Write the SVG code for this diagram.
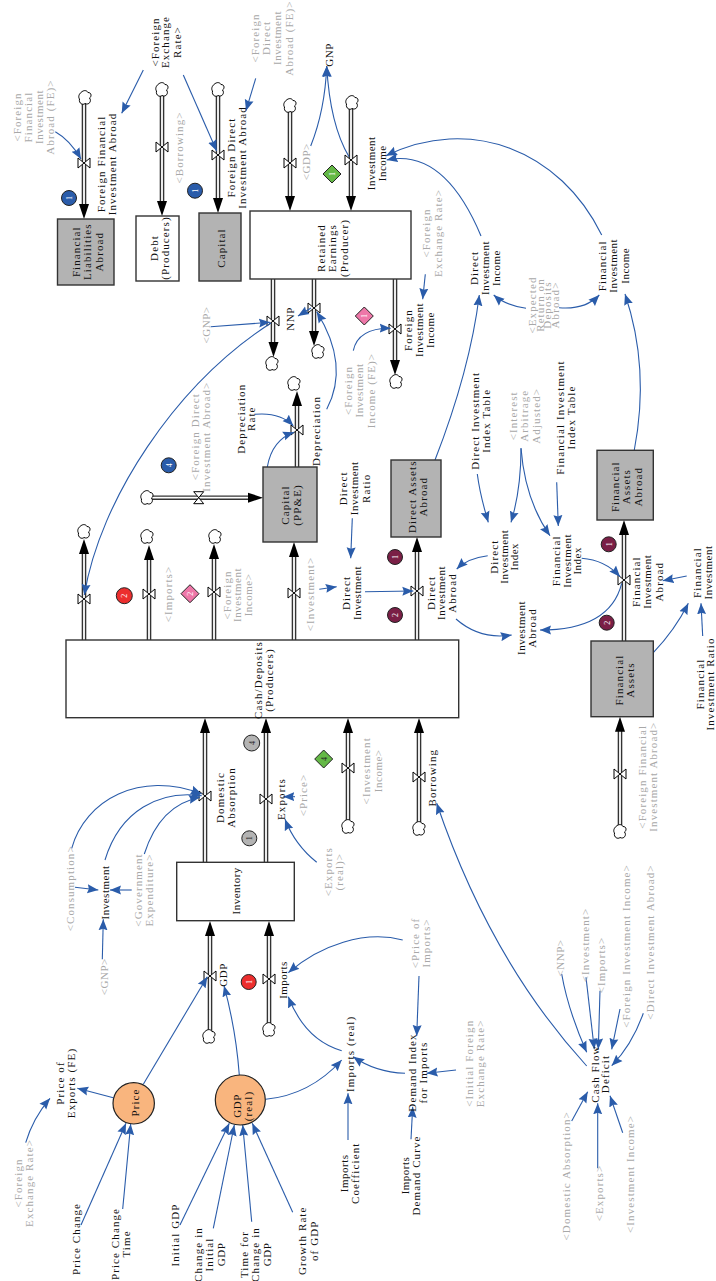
<svg xmlns="http://www.w3.org/2000/svg" width="716" height="1281" viewBox="0 0 716 1281">
<style>
text{font-family:"Liberation Serif","Times New Roman",serif;font-size:11px;letter-spacing:1.1px;text-anchor:middle}
.t{fill:#111}
.g{fill:#a8a8a8}
.i{letter-spacing:.5px}
.b{fill:#fff;font-size:8px;letter-spacing:0}
.s{stroke:#333;stroke-width:1.4}
.sg{fill:#b3b3b3}
.sw{fill:#fff}
.c{fill:none;stroke:#2a5caa;stroke-width:1.1;marker-end:url(#a)}
.po{fill:none;stroke:#333;stroke-width:4.6}
.pi{fill:none;stroke:#fff;stroke-width:1.8}
</style>
<defs>
<marker id="a" markerUnits="userSpaceOnUse" markerWidth="12" markerHeight="10" viewBox="0 0 12 10" refX="11" refY="5" orient="auto"><path d="M0,0.5L11,5L0,9.5L1.5,5Z" fill="#2a5caa"/></marker>
<path id="h" d="M0,0L-5,-15L5,-15Z" fill="#000"/>
<path id="v" d="M-6,-5L6,5L6,-5L-6,5Z" fill="#fff" stroke="#000" stroke-width="1"/>
<path id="k" d="M-4,-5.5C-1,-8.5 2,-7.5 3,-5.5C7,-5.5 6.5,-1 4.5,0C7,3 4,7.5 0,5.5C-2,7.5 -6.5,5.5 -5.5,1C-7,-1 -6,-4 -4,-5.5Z" fill="#fff" stroke="#000" stroke-width="1"/>
<path id="pp" d="M84,100V208M162,92V205M218,92V202M290,108V200M351,105V200M273,279V345M314,279V335M395,279V364M297,467V402M147,497.7H252M84,640V550M149,640V556M214,640V555M294,640V553M417,640V548M624,641V531M620,830V727M205,862V729M266,862V729M348,825V729M419,828V729M210,1036V932M269,1028V932"/>
</defs>
<g id="connectors">
<use href="#pp" class="po"/><use href="#pp" class="pi"/>
<g id="valves">
<use href="#v" x="84" y="163"/><use href="#v" x="162" y="147"/><use href="#v" x="218" y="155"/><use href="#v" x="290" y="163"/><use href="#v" x="351" y="160"/><use href="#v" x="273" y="321"/><use href="#v" x="314" y="308"/><use href="#v" x="395" y="329"/><use href="#v" x="297" y="430"/><use href="#v" transform="translate(198.7,497.7) rotate(90)"/><use href="#v" x="84" y="599"/><use href="#v" x="149" y="594"/><use href="#v" x="214" y="592"/><use href="#v" x="294" y="593"/><use href="#v" x="417" y="591"/><use href="#v" x="624" y="580"/><use href="#v" x="620" y="774"/><use href="#v" x="205" y="796"/><use href="#v" x="266" y="799"/><use href="#v" x="348" y="768"/><use href="#v" x="419" y="777"/><use href="#v" x="210" y="976"/><use href="#v" x="269" y="979"/>
</g>
<g id="clouds">
<use href="#k" x="85" y="98"/><use href="#k" x="162" y="90"/><use href="#k" x="218" y="90"/><use href="#k" x="290" y="106"/><use href="#k" x="352" y="103"/><use href="#k" x="272" y="364"/><use href="#k" x="318" y="352"/><use href="#k" x="396" y="382"/><use href="#k" x="294" y="384"/><use href="#k" x="147" y="498"/><use href="#k" x="84" y="532"/><use href="#k" x="147" y="537"/><use href="#k" x="215" y="537"/><use href="#k" x="620" y="832"/><use href="#k" x="348" y="827"/><use href="#k" x="419" y="829"/><use href="#k" x="209" y="1037"/><use href="#k" x="269" y="1030"/>
</g>
<g id="heads">
<use href="#h" transform="translate(84,219)"/><use href="#h" transform="translate(162,216)"/><use href="#h" transform="translate(218,213)"/><use href="#h" transform="translate(290,211)"/><use href="#h" transform="translate(351,211)"/><use href="#h" transform="translate(273.5,357)"/><use href="#h" transform="translate(314,346)"/><use href="#h" transform="translate(395,375)"/><use href="#h" transform="translate(297,391) rotate(180)"/><use href="#h" transform="translate(263,497.7) rotate(-90)"/><use href="#h" transform="translate(84,539) rotate(180)"/><use href="#h" transform="translate(149,545) rotate(180)"/><use href="#h" transform="translate(214,544) rotate(180)"/><use href="#h" transform="translate(294,542) rotate(180)"/><use href="#h" transform="translate(417,537) rotate(180)"/><use href="#h" transform="translate(624,520) rotate(180)"/><use href="#h" transform="translate(620,716.7) rotate(180)"/><use href="#h" transform="translate(205,718) rotate(180)"/><use href="#h" transform="translate(266,718) rotate(180)"/><use href="#h" transform="translate(348,718) rotate(180)"/><use href="#h" transform="translate(419,718) rotate(180)"/><use href="#h" transform="translate(210,921) rotate(180)"/><use href="#h" transform="translate(269,921) rotate(180)"/>
</g>
<g id="links">
<path class="c" d="M55.3,131.7Q70,140 81,159"/>
<path class="c" d="M143.3,70L121.7,113.3"/>
<path class="c" d="M183.3,75L216.7,151"/>
<path class="c" d="M255.7,78.3L246,110.7"/>
<path class="c" d="M310.7,146Q325,110 326.7,66"/>
<path class="c" d="M349,156.7Q330,125 326.7,66"/>
<path class="c" d="M481,236Q444,148 386.7,160"/>
<path class="c" d="M601.7,235C560,150 470,115 386,155.7"/>
<path class="c" d="M425.3,274.3L422.7,299.3"/>
<path class="c" d="M526,308.3Q505,305 493.7,295"/>
<path class="c" d="M559,307.7Q585,310 599.3,295"/>
<path class="c" d="M435,460Q470,370 479.3,295"/>
<path class="c" d="M634.3,450Q650,368 625,294"/>
<path class="c" d="M210.7,326.7L270,322.3"/>
<path class="c" d="M271,323C175,385 100,500 84.3,595"/>
<path class="c" d="M311,308L298,316"/>
<path class="c" d="M326.7,409.3Q350,365 316.7,311.7"/>
<path class="c" d="M353.3,350.7Q358,328 390.7,328.3"/>
<path class="c" d="M255,414.3Q280,412 293.3,425.7"/>
<path class="c" d="M267.3,467Q272,440 294,432.3"/>
<path class="c" d="M352.3,518.3L350.7,558.3"/>
<path class="c" d="M319.3,589.3L336.7,586.7"/>
<path class="c" d="M365,591.7L413.3,591"/>
<path class="c" d="M477.3,474Q480,495 488.3,522.3"/>
<path class="c" d="M521,448.3Q521,490 511,522.3"/>
<path class="c" d="M521,448.3Q525,500 550,535.7"/>
<path class="c" d="M556.7,482.3L558.3,526"/>
<path class="c" d="M581.7,558.3Q605,560 620,576.7"/>
<path class="c" d="M487.7,555.7Q468,558 456.7,569"/>
<path class="c" d="M456,619Q480,640 511.7,635"/>
<path class="c" d="M621.7,583.3Q610,630 540,630"/>
<path class="c" d="M686.7,576L662.7,580.7"/>
<path class="c" d="M653.3,652.7Q675,630 688.3,603.3"/>
<path class="c" d="M702.7,636L701,603.3"/>
<path class="c" d="M71.7,848.3C85,800 140,770 201.7,794"/>
<path class="c" d="M105,860C120,810 160,790 201.7,795.7"/>
<path class="c" d="M144.3,854Q160,805 200,797.3"/>
<path class="c" d="M316.7,862.3Q295,845 285,819.3"/>
<path class="c" d="M295,796.7L283.3,796.7"/>
<path class="c" d="M75,887.3L98.3,890"/>
<path class="c" d="M131.7,890L110,890"/>
<path class="c" d="M102.3,959.3L103.3,919.3"/>
<path class="c" d="M402.7,940C365,930 320,945 288.3,972.7"/>
<path class="c" d="M341.7,1050.7Q305,1040 288.3,996.7"/>
<path class="c" d="M265.7,1099.3Q310,1095 341.7,1060"/>
<path class="c" d="M405,1073.3Q375,1072 353.3,1056.7"/>
<path class="c" d="M419,976L416.7,1036"/>
<path class="c" d="M456,1070L426.7,1073.3"/>
<path class="c" d="M411,1139.3L412.7,1106.7"/>
<path class="c" d="M348,1140L348,1093.3"/>
<path class="c" d="M586.7,1066Q490,960 436.7,803.3"/>
<path class="c" d="M561.7,974Q568,1010 586.7,1052.3"/>
<path class="c" d="M586,977.3L594.3,1049.3"/>
<path class="c" d="M600,990.7L598.3,1049.3"/>
<path class="c" d="M620,1009L611.7,1049.3"/>
<path class="c" d="M643.3,1013.3Q632,1045 611.7,1065.7"/>
<path class="c" d="M571.7,1121L587.7,1091.7"/>
<path class="c" d="M597.7,1168.3L597.7,1103.3"/>
<path class="c" d="M622.7,1132.7L610,1095.7"/>
<path class="c" d="M113.3,1097.7L77.3,1088.3"/>
<path class="c" d="M25.7,1142.7Q33,1118 50,1098.3"/>
<path class="c" d="M143.3,1084.3L207.3,976.7"/>
<path class="c" d="M239.3,1075Q236,1030 224,985.7"/>
<path class="c" d="M81,1225L126,1123.3"/>
<path class="c" d="M122.7,1209L130.7,1124"/>
<path class="c" d="M180,1225L229.3,1123.3"/>
<path class="c" d="M213.3,1228.3L234.3,1125"/>
<path class="c" d="M251.7,1221.7L242.7,1125"/>
<path class="c" d="M292.7,1212.3L252.3,1123.3"/>
</g>
</g>
<g id="stocks">
<g id="financial-liabilities-abroad"><rect class="s sg" x="57.5" y="219" width="56.5" height="66"/><text class="t" transform="translate(80.2,251.7) rotate(-90)"><tspan x="0">Financial</tspan><tspan x="0" dy="11.2">Liabilities</tspan><tspan x="0" dy="11.2">Abroad</tspan></text></g>
<g id="debt"><rect class="s sw" x="136" y="216" width="43" height="65"/><text class="t" transform="translate(157.5,248) rotate(-90)"><tspan x="0">Debt</tspan><tspan x="0" dy="11.6">(Producers)</tspan></text></g>
<g id="capital"><rect class="s sg" x="199" y="213" width="42" height="68"/><text class="t" transform="translate(225.2,248) rotate(-90)">Capital</text></g>
<g id="retained-earnings"><rect class="s sw" x="250" y="211" width="161" height="68"/><text class="t" transform="translate(325.2,248) rotate(-90)"><tspan x="0">Retained</tspan><tspan x="0" dy="11.2">Earnings</tspan><tspan x="0" dy="11.2">(Producer)</tspan></text></g>
<g id="capital-ppe"><rect class="s sg" x="263" y="467" width="54" height="75"/><text class="t" transform="translate(289.2,505) rotate(-90)"><tspan x="0">Capital</tspan><tspan x="0" dy="11.6">(PP&amp;E)</tspan></text></g>
<g id="direct-assets-abroad"><rect class="s sg" x="391" y="460" width="50" height="77"/><text class="t" transform="translate(415.8,496.7) rotate(-90)"><tspan x="0">Direct Assets</tspan><tspan x="0" dy="11">Abroad</tspan></text></g>
<g id="financial-assets-abroad"><rect class="s sg" x="597" y="450.3" width="56.3" height="69.7"/><text class="t" transform="translate(618.5,486.7) rotate(-90)"><tspan x="0">Financial</tspan><tspan x="0" dy="11.6">Assets</tspan><tspan x="0" dy="11.6">Abroad</tspan></text></g>
<g id="financial-assets"><rect class="s sg" x="591" y="641" width="62.3" height="75.7"/><text class="t" transform="translate(622.5,680) rotate(-90)"><tspan x="0">Financial</tspan><tspan x="0" dy="11">Assets</tspan></text></g>
<g id="cash-deposits"><rect class="s sw" x="66" y="640" width="392.7" height="77.7"/><text class="t" transform="translate(261.8,680) rotate(-90)"><tspan x="0">Cash/Deposits</tspan><tspan x="0" dy="11.6">(Producers)</tspan></text></g>
<g id="inventory"><rect class="s sw" x="176.7" y="862.3" width="117.6" height="58.4"/><text class="t i" transform="translate(240.2,890.8) rotate(-90)">Inventory</text></g>
<g id="price"><circle cx="133.7" cy="1103.3" r="20.7" fill="#f9b57e" stroke="#222" stroke-width="1.2"/><text class="t" transform="translate(138.5,1102.5) rotate(-90)">Price</text></g>
<g id="gdp-real"><circle cx="240.3" cy="1100" r="25" fill="#f9b57e" stroke="#222" stroke-width="1.2"/><text class="t" transform="translate(240.8,1106) rotate(-90)"><tspan class="i" x="0">GDP</tspan><tspan x="0" dy="11.6">(real)</tspan></text></g>
</g>
<g id="variables">
<g id="v1"><text class="g" transform="translate(20.5,117) rotate(-90)"><tspan x="0">&lt;Foreign</tspan><tspan x="0" dy="11">Financial</tspan><tspan class="i" x="0" dy="11">Investment</tspan><tspan x="0" dy="11">Abroad (FE)&gt;</tspan></text></g>
<g id="v2"><text class="t" transform="translate(158.5,42) rotate(-90)"><tspan x="0">&lt;Foreign</tspan><tspan x="0" dy="10.8">Exchange</tspan><tspan x="0" dy="11.7">Rate&gt;</tspan></text></g>
<g id="v3"><text class="g" transform="translate(258.5,38) rotate(-90)"><tspan x="0">&lt;Foreign</tspan><tspan x="0" dy="11.4">Direct</tspan><tspan class="i" x="0" dy="11.4">Investment</tspan><tspan x="0" dy="11.4">Abroad (FE)&gt;</tspan></text></g>
<g id="v4"><text class="t i" transform="translate(332.5,55) rotate(-90)">GNP</text></g>
<g id="v5"><text class="t" transform="translate(105.2,164) rotate(-90)"><tspan x="0">Foreign Financial</tspan><tspan x="0" dy="11.3">Investment Abroad</tspan></text></g>
<g id="v6"><text class="g" transform="translate(182.5,147.5) rotate(-90)">&lt;Borrowing&gt;</text></g>
<g id="v7"><text class="t" transform="translate(234.5,157.5) rotate(-90)"><tspan x="0">Foreign Direct</tspan><tspan x="0" dy="11.3">Investment Abroad</tspan></text></g>
<g id="v8"><text class="g i" transform="translate(310.2,161.7) rotate(-90)">&lt;GDP&gt;</text></g>
<g id="v9"><text class="t" transform="translate(375.2,163.3) rotate(-90)"><tspan class="i" x="0">Investment</tspan><tspan class="i" x="0" dy="11">Income</tspan></text></g>
<g id="v10"><text class="g" transform="translate(430.2,233) rotate(-90)"><tspan x="0">&lt;Foreign</tspan><tspan x="0" dy="11.6">Exchange Rate&gt;</tspan></text></g>
<g id="v11"><text class="t" transform="translate(477.8,268) rotate(-90)"><tspan x="0">Direct</tspan><tspan class="i" x="0" dy="11.2">Investment</tspan><tspan class="i" x="0" dy="11.2">Income</tspan></text></g>
<g id="v12"><text class="t" transform="translate(606.2,265.8) rotate(-90)"><tspan x="0">Financial</tspan><tspan class="i" x="0" dy="11.3">Investment</tspan><tspan class="i" x="0" dy="11.3">Income</tspan></text></g>
<g id="v13"><text class="g" transform="translate(536.2,305) rotate(-90)"><tspan x="0">&lt;Expected</tspan><tspan x="0" dy="7.5">Return on</tspan><tspan x="0" dy="7.5">Deposits</tspan><tspan x="0" dy="7.5">Abroad&gt;</tspan></text></g>
<g id="v14"><text class="t i" transform="translate(294.2,319) rotate(-90)">NNP</text></g>
<g id="v15"><text class="g i" transform="translate(210.2,325) rotate(-90)">&lt;GNP&gt;</text></g>
<g id="v16"><text class="t" transform="translate(244.5,418.7) rotate(-90)"><tspan x="0">Depreciation</tspan><tspan x="0" dy="10.7">Rate</tspan></text></g>
<g id="v17"><text class="t" transform="translate(320.2,431) rotate(-90)">Depreciation</text></g>
<g id="v18"><text class="g" transform="translate(351.8,390.5) rotate(-90)"><tspan x="0">&lt;Foreign</tspan><tspan class="i" x="0" dy="11.4">Investment</tspan><tspan x="0" dy="11.4">Income (FE)&gt;</tspan></text></g>
<g id="v19"><text class="g" transform="translate(198.5,436.7) rotate(-90)"><tspan x="0">&lt;Foreign Direct</tspan><tspan x="0" dy="11">Investment Abroad&gt;</tspan></text></g>
<g id="v20"><text class="t" transform="translate(346.8,488.3) rotate(-90)"><tspan x="0">Direct</tspan><tspan class="i" x="0" dy="11.4">Investment</tspan><tspan x="0" dy="11.4">Ratio</tspan></text></g>
<g id="v21"><text class="g" transform="translate(171.8,594) rotate(-90)">&lt;Imports&gt;</text></g>
<g id="v22"><text class="g" transform="translate(230.8,595) rotate(-90)"><tspan x="0">&lt;Foreign</tspan><tspan class="i" x="0" dy="10.5">Investment</tspan><tspan class="i" x="0" dy="10.5">Income&gt;</tspan></text></g>
<g id="v23"><text class="g" transform="translate(314.2,594) rotate(-90)">&lt;Investment&gt;</text></g>
<g id="v24"><text class="t" transform="translate(349.5,593) rotate(-90)"><tspan x="0">Direct</tspan><tspan class="i" x="0" dy="11.3">Investment</tspan></text></g>
<g id="v25"><text class="t" transform="translate(411.8,330) rotate(-90)"><tspan x="0">Foreign</tspan><tspan class="i" x="0" dy="11.2">Investment</tspan><tspan class="i" x="0" dy="11.2">Income</tspan></text></g>
<g id="v26"><text class="t" transform="translate(478.5,420.8) rotate(-90)"><tspan x="0">Direct Investment</tspan><tspan x="0" dy="11.7">Index Table</tspan></text></g>
<g id="v27"><text class="g" transform="translate(516.8,415.8) rotate(-90)"><tspan x="0">&lt;Interest</tspan><tspan x="0" dy="11.7">Arbitrage</tspan><tspan x="0" dy="11.7">Adjusted&gt;</tspan></text></g>
<g id="v28"><text class="t" transform="translate(563.5,417.5) rotate(-90)"><tspan x="0">Financial Investment</tspan><tspan x="0" dy="11">Index Table</tspan></text></g>
<g id="v29"><text class="t" transform="translate(497.5,556.7) rotate(-90)"><tspan x="0">Direct</tspan><tspan class="i" x="0" dy="10.2">Investment</tspan><tspan class="i" x="0" dy="10.2">Index</tspan></text></g>
<g id="v30"><text class="t" transform="translate(560.2,560.8) rotate(-90)"><tspan x="0">Financial</tspan><tspan class="i" x="0" dy="10.4">Investment</tspan><tspan class="i" x="0" dy="10.4">Index</tspan></text></g>
<g id="v31"><text class="t" transform="translate(434.5,593) rotate(-90)"><tspan x="0">Direct</tspan><tspan class="i" x="0" dy="10.8">Investment</tspan><tspan x="0" dy="10.8">Abroad</tspan></text></g>
<g id="v32"><text class="t" transform="translate(640.2,581.7) rotate(-90)"><tspan x="0">Financial</tspan><tspan class="i" x="0" dy="11.3">Investment</tspan><tspan x="0" dy="11.3">Abroad</tspan></text></g>
<g id="v33"><text class="t" transform="translate(525.2,628) rotate(-90)"><tspan class="i" x="0">Investment</tspan><tspan x="0" dy="10.7">Abroad</tspan></text></g>
<g id="v34"><text class="t" transform="translate(700.8,572.5) rotate(-90)"><tspan x="0">Financial</tspan><tspan class="i" x="0" dy="11">Investment</tspan></text></g>
<g id="v35"><text class="t" transform="translate(703.5,684) rotate(-90)"><tspan x="0">Financial</tspan><tspan x="0" dy="10.7">Investment Ratio</tspan></text></g>
<g id="v36"><text class="g" transform="translate(646.2,776.7) rotate(-90)"><tspan x="0">&lt;Foreign Financial</tspan><tspan x="0" dy="10.6">Investment Abroad&gt;</tspan></text></g>
<g id="v37"><text class="t" transform="translate(224.2,797.5) rotate(-90)"><tspan x="0">Domestic</tspan><tspan x="0" dy="11">Absorption</tspan></text></g>
<g id="v38"><text class="t" transform="translate(284.5,799) rotate(-90)">Exports</text></g>
<g id="v39"><text class="g" transform="translate(306.8,795) rotate(-90)">&lt;Price&gt;</text></g>
<g id="v40"><text class="g" transform="translate(370.2,770.8) rotate(-90)"><tspan x="0">&lt;Investment</tspan><tspan class="i" x="0" dy="11.6">Income&gt;</tspan></text></g>
<g id="v41"><text class="t" transform="translate(436.2,777.7) rotate(-90)">Borrowing</text></g>
<g id="v42"><text class="g" transform="translate(331.8,871.7) rotate(-90)"><tspan x="0">&lt;Exports</tspan><tspan x="0" dy="11.7">(real)&gt;</tspan></text></g>
<g id="v43"><text class="g" transform="translate(73.5,888.3) rotate(-90)">&lt;Consumption&gt;</text></g>
<g id="v44"><text class="t i" transform="translate(109.2,892.5) rotate(-90)">Investment</text></g>
<g id="v45"><text class="g" transform="translate(141.8,890) rotate(-90)"><tspan x="0">&lt;Government</tspan><tspan x="0" dy="11">Expenditure&gt;</tspan></text></g>
<g id="v46"><text class="g" transform="translate(419.2,943) rotate(-90)"><tspan x="0">&lt;Price of</tspan><tspan x="0" dy="11">Imports&gt;</tspan></text></g>
<g id="v47"><text class="g i" transform="translate(107.8,976.7) rotate(-90)">&lt;GNP&gt;</text></g>
<g id="v48"><text class="t i" transform="translate(226.8,975) rotate(-90)">GDP</text></g>
<g id="v49"><text class="t i" transform="translate(286.8,980) rotate(-90)">Imports</text></g>
<g id="v50"><text class="t" transform="translate(63.5,1083) rotate(-90)"><tspan x="0">Price of</tspan><tspan x="0" dy="11">Exports (FE)</tspan></text></g>
<g id="v51"><text class="g" transform="translate(21.8,1183) rotate(-90)"><tspan x="0">&lt;Foreign</tspan><tspan x="0" dy="11.7">Exchange Rate&gt;</tspan></text></g>
<g id="v52"><text class="t" transform="translate(79.5,1239) rotate(-90)">Price Change</text></g>
<g id="v53"><text class="t" transform="translate(118.5,1244) rotate(-90)"><tspan x="0">Price Change</tspan><tspan x="0" dy="11">Time</tspan></text></g>
<g id="v54"><text class="t" transform="translate(179.2,1235) rotate(-90)">Initial GDP</text></g>
<g id="v55"><text class="t" transform="translate(201.8,1254.5) rotate(-90)"><tspan x="0">Change in</tspan><tspan x="0" dy="11.6">Initial</tspan><tspan class="i" x="0" dy="11.6">GDP</tspan></text></g>
<g id="v56"><text class="t" transform="translate(247.8,1254.5) rotate(-90)"><tspan x="0">Time for</tspan><tspan x="0" dy="11.7">Change in</tspan><tspan class="i" x="0" dy="11.7">GDP</tspan></text></g>
<g id="v57"><text class="t" transform="translate(306.2,1240.8) rotate(-90)"><tspan x="0">Growth Rate</tspan><tspan x="0" dy="11.6">of GDP</tspan></text></g>
<g id="v58"><text class="t" transform="translate(353.5,1053.8) rotate(-90)">Imports (real)</text></g>
<g id="v59"><text class="t" transform="translate(415.8,1072.5) rotate(-90)"><tspan x="0">Demand Index</tspan><tspan x="0" dy="11.7">for Imports</tspan></text></g>
<g id="v60"><text class="g" transform="translate(472.8,1063.3) rotate(-90)"><tspan x="0">&lt;Initial Foreign</tspan><tspan x="0" dy="11.4">Exchange Rate&gt;</tspan></text></g>
<g id="v61"><text class="t" transform="translate(347.5,1173.3) rotate(-90)"><tspan class="i" x="0">Imports</tspan><tspan x="0" dy="11.7">Coefficient</tspan></text></g>
<g id="v62"><text class="t" transform="translate(408.5,1175.5) rotate(-90)"><tspan class="i" x="0">Imports</tspan><tspan x="0" dy="11">Demand Curve</tspan></text></g>
<g id="v63"><text class="t" transform="translate(598.5,1074) rotate(-90)"><tspan x="0">Cash Flow</tspan><tspan x="0" dy="10.7">Deficit</tspan></text></g>
<g id="v64"><text class="g i" transform="translate(563.5,958) rotate(-90)">&lt;NNP&gt;</text></g>
<g id="v65"><text class="g" transform="translate(588.5,945) rotate(-90)">&lt;Investment&gt;</text></g>
<g id="v66"><text class="g" transform="translate(605.2,965) rotate(-90)">&lt;Imports&gt;</text></g>
<g id="v67"><text class="g" transform="translate(629.5,946) rotate(-90)">&lt;Foreign Investment Income&gt;</text></g>
<g id="v68"><text class="g" transform="translate(653.5,942) rotate(-90)">&lt;Direct Investment Abroad&gt;</text></g>
<g id="v69"><text class="g" transform="translate(570.2,1175.8) rotate(-90)">&lt;Domestic Absorption&gt;</text></g>
<g id="v70"><text class="g" transform="translate(602.5,1193) rotate(-90)">&lt;Exports&gt;</text></g>
<g id="v71"><text class="g" transform="translate(634.2,1174) rotate(-90)">&lt;Investment Income&gt;</text></g>
</g>
<g id="badges">
<g id="b1"><circle cx="69" cy="198" r="7.5" fill="#2a5caa" stroke="#222"/><text class="b" transform="translate(71.8,198) rotate(-90)">1</text></g>
<g id="b2"><circle cx="195" cy="190.7" r="7.5" fill="#2a5caa" stroke="#222"/><text class="b" transform="translate(197.8,190.7) rotate(-90)">1</text></g>
<g id="b3"><circle cx="168.7" cy="465.3" r="7.5" fill="#2a5caa" stroke="#222"/><text class="b" transform="translate(171.5,465.3) rotate(-90)">4</text></g>
<g id="b4"><path d="M332,165L341,174L332,183L323,174Z" fill="#64b846" stroke="#222"/><text class="b" transform="translate(334.8,174) rotate(-90)">1</text></g>
<g id="b5"><path d="M364.3,307L373.3,316L364.3,325L355.3,316Z" fill="#ee77a8" stroke="#222"/><text class="b" transform="translate(367.1,316) rotate(-90)">1</text></g>
<g id="b6"><path d="M190,584.7L199,593.7L190,602.7L181,593.7Z" fill="#ee77a8" stroke="#222"/><text class="b" transform="translate(192.8,593.7) rotate(-90)">2</text></g>
<g id="b7"><circle cx="124.3" cy="595.7" r="8" fill="#ec2e2e" stroke="#222"/><text class="b" transform="translate(127.1,595.7) rotate(-90)">2</text></g>
<g id="b8"><circle cx="248.7" cy="982" r="7.5" fill="#ec2e2e" stroke="#222"/><text class="b" transform="translate(251.5,982) rotate(-90)">1</text></g>
<g id="b9"><circle cx="395" cy="557" r="7.5" fill="#7a1f46" stroke="#222"/><text class="b" transform="translate(397.8,557) rotate(-90)">1</text></g>
<g id="b10"><circle cx="395" cy="615" r="7.5" fill="#7a1f46" stroke="#222"/><text class="b" transform="translate(397.8,615) rotate(-90)">2</text></g>
<g id="b11"><circle cx="608.7" cy="544.3" r="7.5" fill="#7a1f46" stroke="#222"/><text class="b" transform="translate(611.5,544.3) rotate(-90)">1</text></g>
<g id="b12"><circle cx="606.7" cy="622.7" r="7.5" fill="#7a1f46" stroke="#222"/><text class="b" transform="translate(609.5,622.7) rotate(-90)">2</text></g>
<g id="b13"><circle cx="251.7" cy="743" r="8" fill="#b3b3b3" stroke="#222"/><text class="b" style="fill:#222" transform="translate(254.5,743) rotate(-90)">4</text></g>
<g id="b14"><circle cx="249.3" cy="838.3" r="7.5" fill="#b3b3b3" stroke="#222"/><text class="b" style="fill:#222" transform="translate(252.1,838.3) rotate(-90)">1</text></g>
<g id="b15"><path d="M323.7,750L332.7,759L323.7,768L314.7,759Z" fill="#64b846" stroke="#222"/><text class="b" style="fill:#222" transform="translate(326.5,759) rotate(-90)">4</text></g>
</g>
</svg>
